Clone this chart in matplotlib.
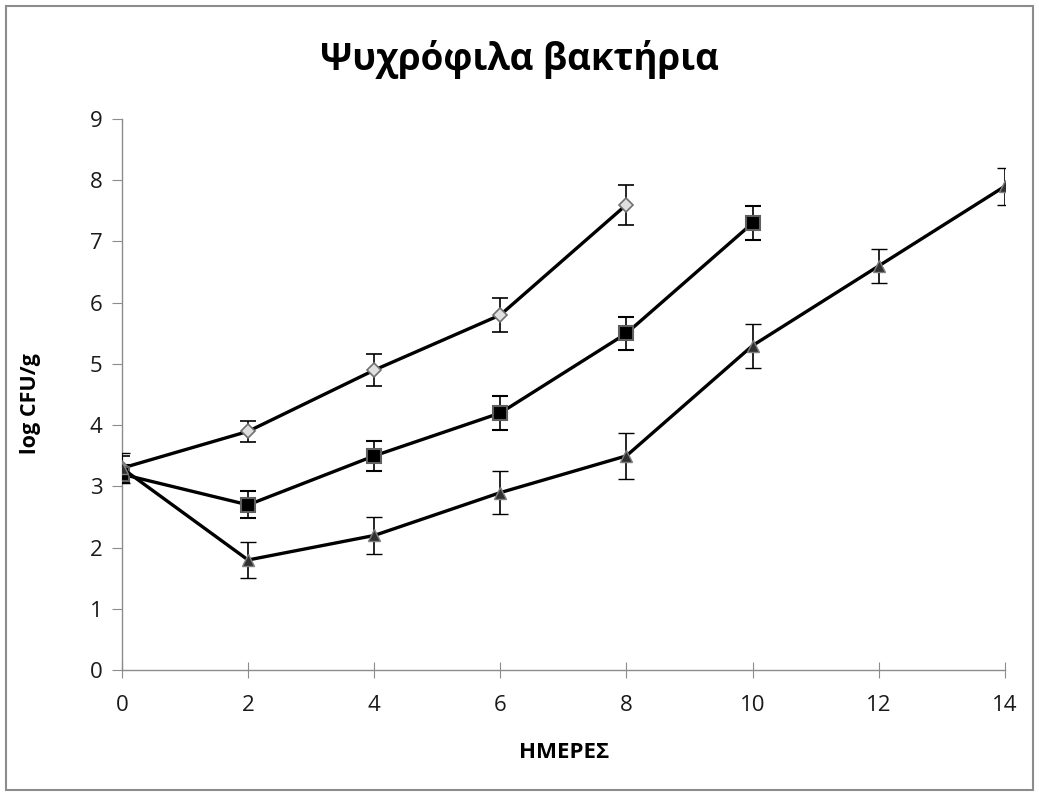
import matplotlib
matplotlib.use('Agg')
import matplotlib.pyplot as plt
from matplotlib.patches import Rectangle

# days and log CFU/g values
days_a = [0, 2, 4, 6, 8]
vals_a = [3.3, 3.9, 4.9, 5.8, 7.6]
err_a = [0.2, 0.17, 0.26, 0.28, 0.33]

days_b = [0, 2, 4, 6, 8, 10]
vals_b = [3.2, 2.7, 3.5, 4.2, 5.5, 7.3]
err_b = [0.15, 0.22, 0.25, 0.28, 0.27, 0.28]

days_c = [0, 2, 4, 6, 8, 10, 12, 14]
vals_c = [3.3, 1.8, 2.2, 2.9, 3.5, 5.3, 6.6, 7.9]
err_c = [0.25, 0.3, 0.3, 0.35, 0.37, 0.36, 0.27, 0.3]

x_ticks = [0, 2, 4, 6, 8, 10, 12, 14]
y_ticks = list(range(0, 10))

fig = plt.figure(figsize=(10.39, 7.96), dpi=100)
ax = fig.add_axes([0.1174, 0.158, 0.8496, 0.6925])

# outer frame of the chart area
fig.patches.append(Rectangle((0.006, 0.008), 0.988, 0.984, transform=fig.transFigure,
                             fill=False, edgecolor='#8c8c8c', linewidth=1.5))

common = dict(color='black', linewidth=2.4, ecolor='black', elinewidth=1.2,
              capsize=6, capthick=1.2, zorder=3)
ax.errorbar(days_a, vals_a, yerr=err_a, marker='D', markersize=7,
            markerfacecolor='#e0e0e0', markeredgecolor='#707070', markeredgewidth=1.2, **common)
ax.errorbar(days_b, vals_b, yerr=err_b, marker='s', markersize=10,
            markerfacecolor='black', markeredgecolor='#606060', markeredgewidth=1.5, **common)
ax.errorbar(days_c, vals_c, yerr=err_c, marker='^', markersize=9,
            markerfacecolor='#303030', markeredgecolor='#808080', markeredgewidth=1.0, **common)

ax.set_xlim(0, 14)
ax.set_ylim(0, 9)
ax.set_xticks(x_ticks)
ax.set_yticks(y_ticks)
for s in ['top', 'right']:
    ax.spines[s].set_visible(False)
for s in ['left', 'bottom']:
    ax.spines[s].set_color('#8c8c8c')
    ax.spines[s].set_linewidth(1.0)
    ax.spines[s].set_clip_on(False)
ax.tick_params(axis='y', direction='out', length=7, color='#8c8c8c',
               labelsize=16, pad=7)
ax.tick_params(axis='x', direction='inout', length=12, color='#8c8c8c',
               labelsize=16, pad=12)
for lab in ax.get_xticklabels() + ax.get_yticklabels():
    lab.set_family('Open Sans')
    lab.set_color('#1a1a1a')

fig.text(0.5, 0.925, 'Ψυχρόφιλα βακτήρια', ha='center', va='center',
         fontsize=26.5, fontweight='bold', family='Open Sans')
fig.text(0.543, 0.055, 'ΗΜΕΡΕΣ', ha='center', va='center',
         fontsize=16, fontweight='bold', family='Open Sans')
fig.text(0.029, 0.493, 'log CFU/g', ha='center', va='center', rotation=90,
         fontsize=15.5, fontweight='bold', family='Open Sans')

fig.savefig('out.png', dpi=100)
